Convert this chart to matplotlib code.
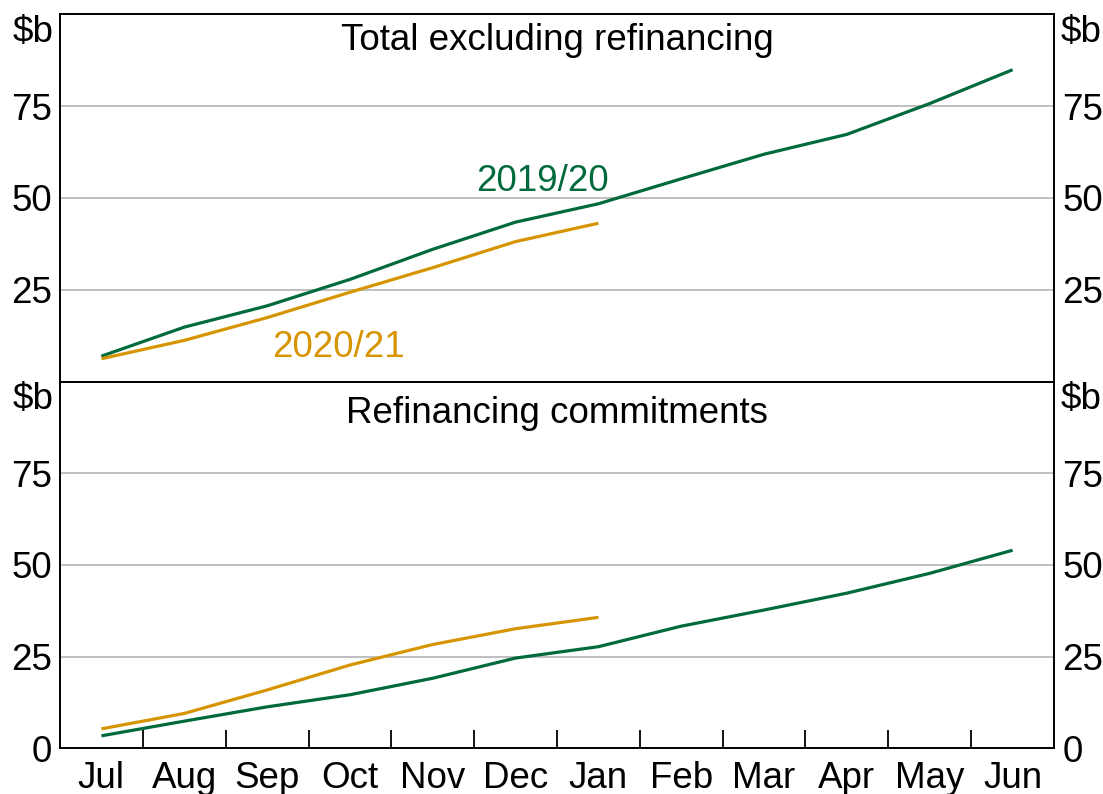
import numpy as np
import matplotlib
matplotlib.use("Agg")
import matplotlib.pyplot as plt
from matplotlib.ticker import FixedLocator

plt.rcParams['font.family'] = ['Liberation Sans', 'DejaVu Sans']

months = ["Jul", "Aug", "Sep", "Oct", "Nov", "Dec", "Jan", "Feb", "Mar", "Apr", "May", "Jun"]

# Total excluding refinancing ($b, cumulative)
total_1920 = [6.9, 14.8, 20.6, 27.8, 36.0, 43.4, 48.4, 55.2, 61.9, 67.3, 75.7, 84.9]
total_2021 = [6.2, 11.2, 17.4, 24.3, 31.0, 38.1, 43.1]

# Refinancing commitments ($b, cumulative)
refi_1920 = [3.4, 7.4, 11.3, 14.6, 19.1, 24.6, 27.7, 33.3, 37.7, 42.3, 47.7, 54.0]
refi_2021 = [5.3, 9.5, 15.9, 22.7, 28.3, 32.6, 35.7]

panel_titles = ["Total excluding refinancing", "Refinancing commitments"]
series_labels = ["2019/20", "2020/21"]

GREEN = '#006a3d'
ORANGE = '#d69500'
FS = 26.5

fig = plt.figure(figsize=(11.03, 7.94), dpi=100)
left, right = 60 / 1103, 1054 / 1103
top_y0 = 1 - 381.5 / 794
top_y1 = 1 - 14.3 / 794
bot_y0 = 1 - 748.3 / 794
ax1 = fig.add_axes([left, top_y0, right - left, top_y1 - top_y0])
ax2 = fig.add_axes([left, bot_y0, right - left, top_y0 - bot_y0])

for ax, s1, s2, title, yt, ty in [
    (ax1, total_1920, total_2021, panel_titles[0], [25, 50, 75], 0.930),
    (ax2, refi_1920, refi_2021, panel_titles[1], [0, 25, 50, 75], 0.912),
]:
    x1 = np.arange(len(s1))
    x2 = np.arange(len(s2))
    ax.plot(x1, s1, color=GREEN, lw=2.3, solid_capstyle='butt', zorder=3)
    ax.plot(x2, s2, color=ORANGE, lw=2.3, solid_capstyle='butt', zorder=3)
    ax.set_xlim(-0.5, len(months) - 0.5)
    ax.set_ylim(0, 100)
    for g in [25, 50, 75]:
        ax.axhline(g, color='#b4b4b4', lw=1.2, zorder=1)
    ax.set_yticks(yt)
    ax.set_yticklabels([str(v) for v in yt])
    ax.tick_params(axis='y', which='both', length=0, labelsize=FS, pad=6,
                   left=True, right=True, labelleft=True, labelright=True)
    for sp in ax.spines.values():
        sp.set_linewidth(1.4)
        sp.set_color('black')
    ax.text(0.5, ty, title, transform=ax.transAxes, ha='center', va='center',
            fontsize=FS, color='black')
    # unit labels
    ax.text(-0.007, 0.95, "$b", transform=ax.transAxes, ha='right', va='center',
            fontsize=FS)
    ax.text(1.007, 0.95, "$b", transform=ax.transAxes, ha='left', va='center',
            fontsize=FS)

# Top panel: no x ticks
ax1.tick_params(axis='x', which='both', bottom=False, labelbottom=False, length=0)

# Bottom panel: x tick labels at month centers, tick marks between months
ax2.set_xticks(np.arange(len(months)))
ax2.set_xticklabels(months)
ax2.xaxis.set_minor_locator(FixedLocator(np.arange(0.5, len(months) - 0.5, 1)))
ax2.tick_params(axis='x', which='major', length=0, labelsize=FS, pad=9)
ax2.tick_params(axis='x', which='minor', length=13, width=1.3, direction='in')

# Series labels
ax1.text(5.32, 54.5, series_labels[0], color=GREEN, fontsize=FS, ha='center', va='center')
ax1.text(2.86, 9.3, series_labels[1], color=ORANGE, fontsize=FS, ha='center', va='center')

fig.savefig("out.png", dpi=100)
